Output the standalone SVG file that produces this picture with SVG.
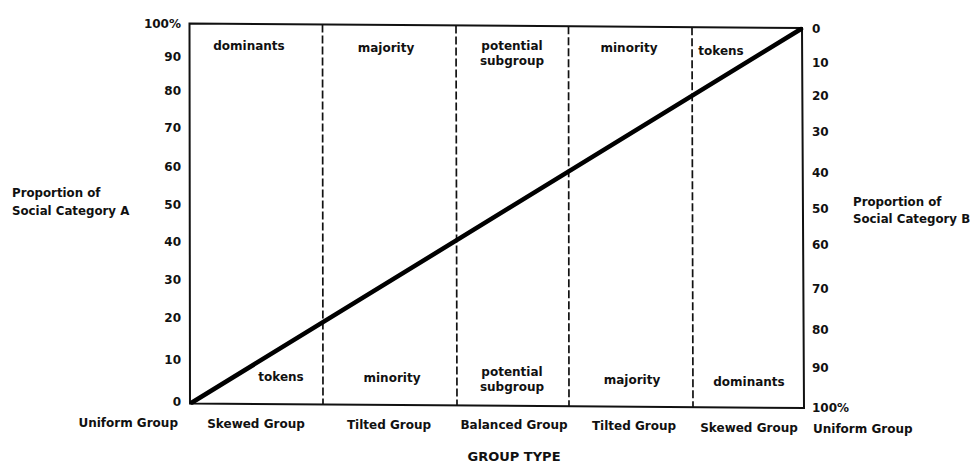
<svg xmlns="http://www.w3.org/2000/svg" width="970" height="464" viewBox="0 0 970 464">
<style>
text{font-family:"DejaVu Sans","Liberation Sans",sans-serif;font-weight:bold;fill:#111;font-size:12px}
.r{text-anchor:end}
.m{text-anchor:middle}
.lab{font-size:11.8px}
.frame{fill:none;stroke:#111;stroke-width:2}
.dash{fill:none;stroke:#111;stroke-width:1.7;stroke-dasharray:8 3}
.diag{fill:none;stroke:#000;stroke-width:4.5;stroke-linecap:round}
</style>
<rect width="970" height="464" fill="#fff"/>
<g id="frame">
<polygon class="frame" points="189.5,23.5 802,28 804,408 190,403.5"/>
</g>
<g id="connectors">
<line class="dash" x1="322.5" y1="24.5" x2="323" y2="404.5"/>
<line class="dash" x1="456" y1="25.5" x2="457" y2="405.5"/>
<line class="dash" x1="568.5" y1="26.3" x2="569" y2="406.3"/>
<line class="dash" x1="692" y1="27.2" x2="693" y2="407.2"/>
<line class="diag" x1="192" y1="402.5" x2="801" y2="29"/>
</g>
<g id="axis-left">
<text class="r" x="181" y="28">100%</text>
<text class="r" x="181" y="61">90</text>
<text class="r" x="181" y="95">80</text>
<text class="r" x="181" y="132">70</text>
<text class="r" x="181" y="171">60</text>
<text class="r" x="181" y="209">50</text>
<text class="r" x="181" y="246">40</text>
<text class="r" x="181" y="284">30</text>
<text class="r" x="181" y="322">20</text>
<text class="r" x="181" y="364">10</text>
<text class="r" x="181" y="406">0</text>
</g>
<g id="axis-right">
<text x="812" y="33">0</text>
<text x="812" y="67">10</text>
<text x="812" y="100">20</text>
<text x="812" y="136">30</text>
<text x="812" y="177">40</text>
<text x="812" y="213">50</text>
<text x="812" y="249">60</text>
<text x="812" y="293">70</text>
<text x="812" y="334">80</text>
<text x="812" y="372">90</text>
<text x="812" y="412">100%</text>
</g>
<g id="label-a">
<text class="lab" x="12" y="197">Proportion of</text>
<text class="lab" x="12" y="215">Social Category A</text>
</g>
<g id="label-b">
<text class="lab" x="853" y="206">Proportion of</text>
<text class="lab" x="853" y="223">Social Category B</text>
</g>
<g id="top-labels">
<text class="m" x="249" y="50">dominants</text>
<text class="m" x="386" y="52">majority</text>
<text class="m" x="512" y="50">potential</text>
<text class="m" x="512" y="65">subgroup</text>
<text class="m" x="629" y="52">minority</text>
<text class="m" x="721" y="55">tokens</text>
</g>
<g id="bottom-labels">
<text class="m" x="281" y="381">tokens</text>
<text class="m" x="392" y="382">minority</text>
<text class="m" x="512" y="376">potential</text>
<text class="m" x="512" y="391">subgroup</text>
<text class="m" x="632" y="384">majority</text>
<text class="m" x="749" y="386">dominants</text>
</g>
<g id="group-types">
<text class="r" x="178" y="427">Uniform Group</text>
<text class="m" x="256" y="428">Skewed Group</text>
<text class="m" x="389" y="429">Tilted Group</text>
<text class="m" x="514" y="429">Balanced Group</text>
<text class="m" x="634" y="430">Tilted Group</text>
<text class="m" x="749" y="432">Skewed Group</text>
<text x="813" y="433">Uniform Group</text>
</g>
<g id="axis-title">
<text class="m" x="514" y="461" style="font-size:13px">GROUP TYPE</text>
</g>
</svg>
